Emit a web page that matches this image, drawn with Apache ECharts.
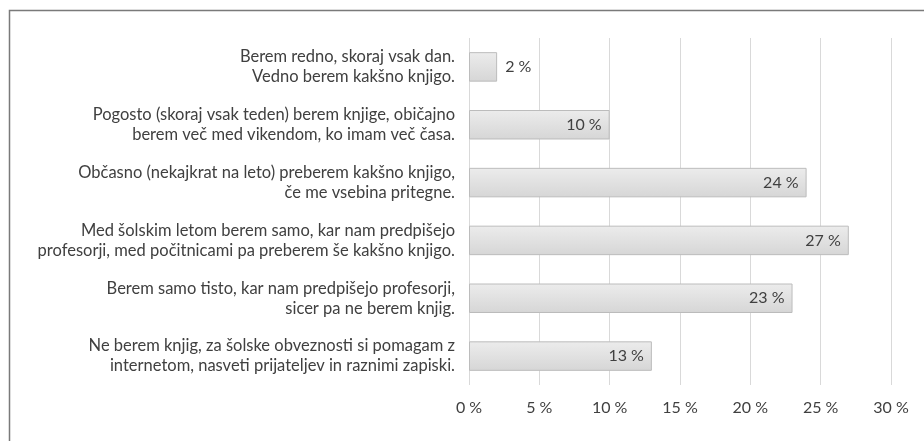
<!DOCTYPE html>
<html>
<head>
<meta charset="utf-8">
<script src="https://cdn.jsdelivr.net/npm/echarts@6/dist/echarts.min.js"></script>
<style>
  html, body { margin: 0; padding: 0; background: #fff; }
  #chart { width: 924px; height: 441px; }
</style>
</head>
<body>
<div id="chart"></div>
<script>
// odgovori (kategorije) in deleži v %
const categories = [
  "Berem redno, skoraj vsak dan.\nVedno berem kakšno knjigo.",
  "Pogosto (skoraj vsak teden) berem knjige, običajno\nberem več med vikendom, ko imam več časa.",
  "Občasno (nekajkrat na leto) preberem kakšno knjigo,\nče me vsebina pritegne.",
  "Med šolskim letom berem samo, kar nam predpišejo\nprofesorji, med počitnicami pa preberem še kakšno knjigo.",
  "Berem samo tisto, kar nam predpišejo profesorji,\nsicer pa ne berem knjig.",
  "Ne berem knjig, za šolske obveznosti si pomagam z\ninternetom, nasveti prijateljev in raznimi zapiski."
];
const values = [2, 10, 24, 27, 23, 13];
const axisMin = 0;
const axisMax = 30;
const axisStep = 5;

const font = "Lato, 'Open Sans', sans-serif";

let chart = echarts.init(document.getElementById("chart"));

chart.setOption({
  animation: false,
  textStyle: { fontFamily: font },
  graphic: [
    {
      type: "rect",
      shape: { x: 9.5, y: 10.5, width: 1000, height: 1000 },
      style: { fill: "none", stroke: "#7a7a7a", lineWidth: 1.5 },
      silent: true
    }
  ],
  grid: { left: 469, right: 33, top: 38, bottom: 56, containLabel: false },
  xAxis: {
    type: "value",
    min: axisMin,
    max: axisMax,
    interval: axisStep,
    axisLine: { show: false },
    axisTick: { show: false },
    splitLine: { show: true, lineStyle: { color: "#d9d9d9", width: 1 } },
    axisLabel: {
      formatter: v => v + " %",
      color: "#404040",
      fontSize: 16,
      margin: 15,
      fontFamily: font
    }
  },
  yAxis: {
    type: "category",
    data: categories,
    inverse: true,
    axisLine: { show: false },
    axisTick: { show: false },
    axisLabel: {
      color: "#404040",
      fontSize: 16.5,
      lineHeight: 20,
      align: "right",
      margin: 14,
      fontFamily: font
    }
  },
  series: [
    {
      type: "bar",
      data: values.map(v => ({
        value: v,
        label: { position: v < 5 ? "right" : "insideRight" }
      })),
      barWidth: "51%",
      itemStyle: {
        color: new echarts.graphic.LinearGradient(0, 0, 0, 1, [
          { offset: 0, color: "#ececec" },
          { offset: 1, color: "#d6d6d6" }
        ]),
        borderColor: "#bcbcbc",
        borderWidth: 1
      },
      label: {
        show: true,
        formatter: p => p.value + " %",
        color: "#404040",
        fontSize: 16,
        distance: 8,
        fontFamily: font
      }
    }
  ]
});
</script>
</body>
</html>
